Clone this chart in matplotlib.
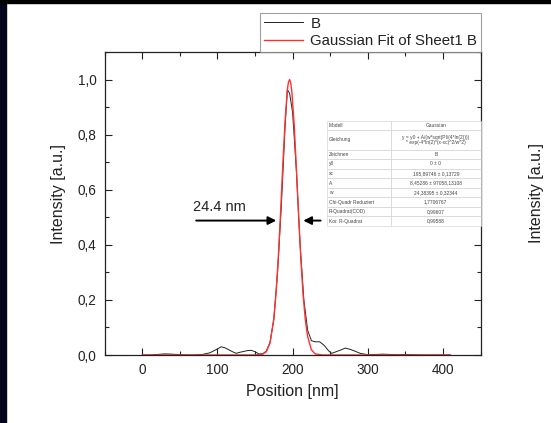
import numpy as np
import matplotlib
matplotlib.use("Agg")
import matplotlib.pyplot as plt
from matplotlib.ticker import MultipleLocator, FuncFormatter
from matplotlib.patches import Rectangle

plt.rcParams['font.family'] = ['Liberation Sans', 'DejaVu Sans']

# measured profile "B"
pos_b = [0, 10, 20, 30, 40, 50, 60, 70, 80, 90, 100, 105, 110, 120, 125, 130,
         140, 145, 150, 155, 160, 165, 170, 175, 180, 185, 190, 193, 196, 200,
         205, 210, 215, 220, 225, 230, 236, 242, 248, 252, 258, 264, 270, 276,
         282, 290, 300, 310, 320, 330, 340, 350, 360, 370, 380, 390, 400, 410]
int_b = [0.0, 0.0, 0.002, 0.004, 0.003, 0.001, 0.0, 0.0, 0.002, 0.008, 0.022,
         0.030, 0.026, 0.012, 0.006, 0.010, 0.016, 0.017, 0.012, 0.004, 0.004,
         0.014, 0.046, 0.130, 0.300, 0.540, 0.830, 0.963, 0.950, 0.880, 0.670,
         0.400, 0.200, 0.090, 0.052, 0.048, 0.048, 0.035, 0.015, 0.006, 0.012,
         0.018, 0.025, 0.021, 0.015, 0.006, 0.001, 0.002, 0.003, 0.002, 0.001,
         0.002, 0.001, 0.0, 0.0, 0.0, 0.0, 0.0]

# Gaussian fit curve
pos_fit = [0, 150, 160, 165, 170, 175, 178, 181, 184, 187, 190, 193, 194.5,
           196, 197.5, 199, 202, 205, 208, 211, 214, 217, 220, 225, 230, 240, 410]
int_fit = [0.0, 0.0, 0.0025, 0.012, 0.044, 0.131, 0.225, 0.356, 0.517, 0.691,
           0.850, 0.962, 0.991, 1.0, 0.988, 0.956, 0.841, 0.680, 0.506, 0.346,
           0.217, 0.126, 0.067, 0.019, 0.004, 0.0, 0.0]

fit_rows = [
    ["Modell", "Gaussian"],
    ["Gleichung", "y = y0 + A/(w*sqrt(PI/(4*ln(2))))\n* exp(-4*ln(2)*(x-xc)^2/w^2)"],
    ["Zeichnen", "B"],
    ["y0", "0 ± 0"],
    ["xc", "195,89746 ± 0,13729"],
    ["A", "8,45286 ± 97058,13108"],
    ["w", "24,38395 ± 0,32344"],
    ["Chi-Quadr Reduziert", "1,7706767"],
    ["R-Quadrat(COD)", "0,99607"],
    ["Kor. R-Quadrat", "0,99588"],
]

fwhm_label = "24.4 nm"
fwhm_y = 0.488
fwhm_left = (68, 182)
fwhm_right = (241, 210.5)

W, H = 551, 423
fig = plt.figure(figsize=(W / 100, H / 100), dpi=100, facecolor='white')
# dark slide edges
fig.patches.append(Rectangle((0, 0), 6 / W, 1, transform=fig.transFigure,
                             color='#04041c', zorder=0))
fig.patches.append(Rectangle((0, 1 - 3 / H), 1, 3 / H, transform=fig.transFigure,
                             color='#000000', zorder=0))

ax = fig.add_axes([104.7 / W, 1 - 355 / H, 375.8 / W, 303 / H])
ax.plot(pos_b, int_b, color='#222222', lw=0.7, label='B')
ax.plot(pos_fit, int_fit, color='#ff3030', lw=1.0, label='Gaussian Fit of Sheet1 B')

ax.set_xlim(-50, 450)
ax.set_ylim(0, 1.1)
ax.xaxis.set_major_locator(MultipleLocator(100))
ax.xaxis.set_minor_locator(MultipleLocator(50))
ax.yaxis.set_major_locator(MultipleLocator(0.2))
ax.yaxis.set_minor_locator(MultipleLocator(0.1))
ax.yaxis.set_major_formatter(FuncFormatter(lambda v, p: f"{v:.1f}".replace('.', ',')))
ax.tick_params(which='both', direction='in', top=True, right=True,
               labelsize=9.8, colors='#222222', pad=6)
ax.tick_params(which='major', length=5, width=0.8)
ax.tick_params(which='minor', length=3, width=0.8)
for s in ax.spines.values():
    s.set_color('#222222')
    s.set_linewidth(0.9)

ax.set_xlabel("Position [nm]", fontsize=11.5, color='#222222', labelpad=5)
fig.text(58 / W, 1 - 194 / H, "Intensity [a.u.]", rotation=90, fontsize=11.5,
         color='#222222', ha='center', va='center')
fig.text(537 / W, 1 - 193 / H, "Intensity [a.u.]", rotation=90, fontsize=11.5,
         color='#222222', ha='center', va='center')

# FWHM arrows
arrow = dict(arrowstyle='-|>', color='black', lw=1.4, mutation_scale=12)
ax.annotate('', xy=(fwhm_left[1], fwhm_y), xytext=(fwhm_left[0], fwhm_y),
            arrowprops=arrow)
ax.annotate('', xy=(fwhm_right[1], fwhm_y), xytext=(fwhm_right[0], fwhm_y),
            arrowprops=arrow)
ax.text(fwhm_left[0] - 1, fwhm_y + 0.025, fwhm_label, fontsize=10.5,
        color='#222222', ha='left', va='bottom')

# fit result table
tab = ax.table(cellText=fit_rows, colWidths=[0.417, 0.583],
               bbox=[0.5915, 0.4257, 0.4085, 0.347], zorder=5)
tab.auto_set_font_size(False)
for (r, c), cell in tab.get_celld().items():
    cell.set_edgecolor('#cccccc')
    cell.set_linewidth(0.4)
    cell.set_facecolor('white')
    cell.set_height(2.0 if r == 1 else 1.0)
    cell.get_text().set_fontsize(3.5)
    cell.get_text().set_color('#444444')
    if c == 0:
        cell.get_text().set_ha('left')
        cell.PAD = 0.03
    else:
        cell.get_text().set_ha('center')

leg = fig.legend(loc='lower right', bbox_to_anchor=(481 / W, 1 - 52 / H),
                 fontsize=10.8, frameon=True, fancybox=False, borderaxespad=0,
                 handlelength=2.6, handletextpad=0.5, borderpad=0.25,
                 labelspacing=0.25)
leg.get_frame().set_edgecolor('#888888')
leg.get_frame().set_linewidth(0.8)
for t in leg.get_texts():
    t.set_color('#222222')

fig.savefig("out.png", dpi=100, facecolor=fig.get_facecolor())
